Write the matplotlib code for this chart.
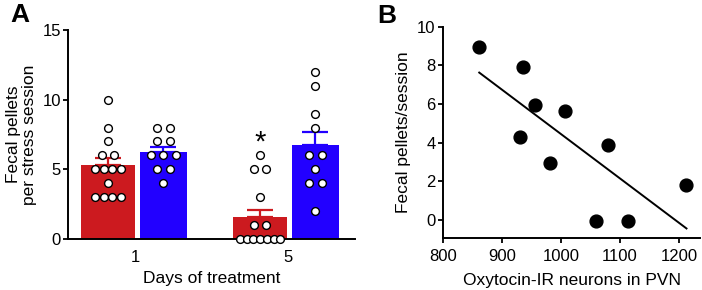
import numpy as np
import matplotlib
matplotlib.use("Agg")
from matplotlib import pyplot as plt

plt.rcParams['font.family'] = ['Liberation Sans', 'DejaVu Sans']

# panel A: fecal pellets per stress session
days = ['1', '5']
red_mean = [5.3, 1.6]
red_sem = [0.48, 0.48]
blue_mean = [6.27, 6.75]
blue_sem = [0.36, 0.95]
red_pts = [
    [10, 8, 7, 6, 6, 5, 5, 5, 5, 4, 3, 3, 3, 3],
    [6, 5, 5, 3, 1, 1, 0, 0, 0, 0, 0, 0, 0],
]
blue_pts = [
    [8, 8, 7, 7, 6, 6, 6, 5, 5, 4],
    [12, 11, 9, 8, 6, 6, 5, 4, 4, 2],
]

# panel B: correlation
oxt_cells = [861, 935, 956, 1007, 931, 982, 1079, 1213, 1059, 1113]
pellets = [8.95, 7.9, 5.97, 5.66, 4.31, 2.97, 3.88, 1.81, -0.07, -0.07]

RED = '#CC1A1F'
BLUE = '#2200FF'

fig = plt.figure(figsize=(7.02, 2.9), dpi=100)
axA = fig.add_axes([0.0969, 0.1759, 0.409, 0.7207])
axB = fig.add_axes([0.6315, 0.1793, 0.3657, 0.7287])


def swarm(vals, center):
    # simple symmetric spread of equal values
    xs, ys = [], []
    px = 1 / 152.0
    for v in sorted(set(vals)):
        n = vals.count(v)
        step = min(12.5, max(26.0 / max(n - 1, 1), 6.7)) * px
        for k in range(n):
            xs.append(center + (k - (n - 1) / 2) * step)
            ys.append(v)
    return xs, ys


x = np.arange(len(days))
r_off, b_off = -0.182, 0.182
axA.bar(x + r_off, red_mean, width=0.359, color=RED, zorder=2)
axA.bar(x + b_off, blue_mean, width=0.306, color=BLUE, zorder=2)
axA.errorbar(x + r_off, red_mean, yerr=[np.zeros(2), red_sem], fmt='none',
             ecolor=RED, elinewidth=1.6, capsize=9.5, capthick=1.6, zorder=1)
axA.errorbar(x + b_off, blue_mean, yerr=[np.zeros(2), blue_sem], fmt='none',
             ecolor=BLUE, elinewidth=1.6, capsize=9.5, capthick=1.6, zorder=1)
for i in range(len(days)):
    for pts, off in ((red_pts[i], r_off), (blue_pts[i], b_off)):
        xs, ys = swarm(pts, i + off)
        axA.plot(xs, ys, 'o', ms=5.6, mfc='white', mec='black', mew=1.0,
                 zorder=4, clip_on=False)
axA.text(1 + r_off, 6.95, '*', ha='center', va='center', fontsize=21)

axA.set_xlim(-0.445, 1.443)
axA.set_ylim(0, 15)
axA.set_yticks([0, 5, 10, 15])
axA.set_xticks(x)
axA.set_xticklabels(days)
axA.set_xlabel('Days of treatment', fontsize=12.5, labelpad=4)
axA.set_ylabel('Fecal pellets\nper stress session', fontsize=12.5,
               labelpad=4, linespacing=1.05)
axA.tick_params(axis='y', length=3.6, width=1.3, pad=1.5, labelsize=12)
axA.tick_params(axis='x', length=0, pad=8, labelsize=12)
for s in ('top', 'right'):
    axA.spines[s].set_visible(False)
for s in ('left', 'bottom'):
    axA.spines[s].set_linewidth(1.4)
axA.spines['bottom'].set_zorder(3)

axB.scatter(oxt_cells, pellets, s=85, color='black', zorder=3, clip_on=False)
slope, icpt = np.polyfit(oxt_cells, pellets, 1)
xl = np.array([min(oxt_cells), max(oxt_cells)])
axB.plot(xl, slope * xl + icpt, color='black', lw=1.4, zorder=2)
axB.set_xlim(800, 1236)
axB.set_ylim(-0.93, 10)
axB.set_xticks([800, 900, 1000, 1100, 1200])
axB.set_yticks([0, 2, 4, 6, 8, 10])
axB.set_xlabel('Oxytocin-IR neurons in PVN', fontsize=12.5, labelpad=6)
axB.set_ylabel('Fecal pellets/session', fontsize=12.5, labelpad=4)
axB.tick_params(length=3.6, width=1.3, pad=2, labelsize=12)
axB.tick_params(axis='x', pad=4.5)
for s in ('top', 'right'):
    axB.spines[s].set_visible(False)
for s in ('left', 'bottom'):
    axB.spines[s].set_linewidth(1.4)

fig.text(0.015, 0.99, 'A', fontsize=19, fontweight='bold', va='top')
fig.text(0.538, 0.985, 'B', fontsize=19, fontweight='bold', va='top')

fig.savefig('out.png', dpi=100)
